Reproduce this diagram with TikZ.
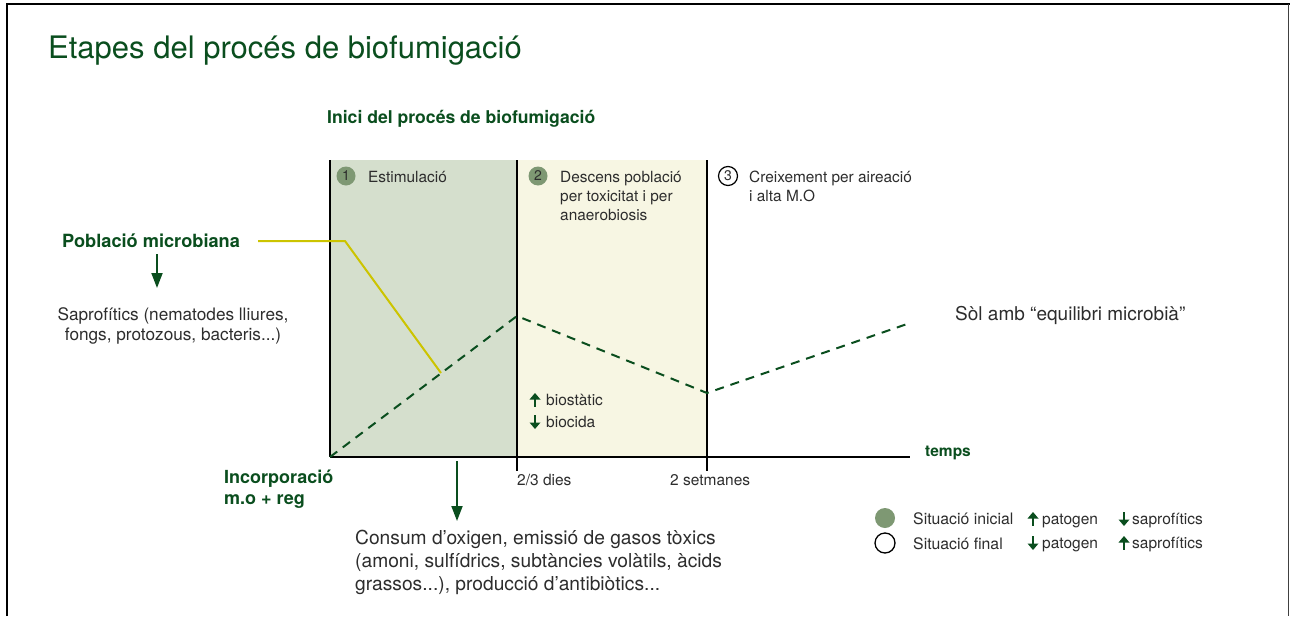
\documentclass[tikz,border=0pt]{standalone}
\usepackage{fontspec}
\setmainfont{TeX Gyre Heros}
\usetikzlibrary{arrows.meta}
\definecolor{dkgreen}{RGB}{10,78,30}
\definecolor{txtgray}{RGB}{45,45,45}
\definecolor{greenfill}{RGB}{213,223,205}
\definecolor{yellowfill}{RGB}{247,246,227}
\definecolor{circfill}{RGB}{126,152,115}
\definecolor{ylwline}{RGB}{204,196,0}
\tikzset{
  txt/.style={inner sep=0pt, text=txtgray, align=left},
  gtxt/.style={inner sep=0pt, text=dkgreen, align=left},
  stepcirc/.style={circle, minimum size=19pt, inner sep=0pt, font=\fontsize{14}{14}\selectfont, text=txtgray},
  legcirc/.style={circle, minimum size=20pt, inner sep=0pt},
  bigarrow/.style={dkgreen, line width=1.8pt, -{Triangle[width=11pt,length=15pt]}},
  upar/.pic={\fill[dkgreen] (-1.4,7) rectangle (1.4,-1); \fill[dkgreen] (-5.5,-0.5)--(5.5,-0.5)--(0,-7)--cycle;},
  downar/.pic={\fill[dkgreen] (-1.4,-7) rectangle (1.4,1); \fill[dkgreen] (-5.5,0.5)--(5.5,0.5)--(0,7)--cycle;},
}
\begin{document}
\begin{tikzpicture}[x=1pt,y=-1pt]
\useasboundingbox (0,0) rectangle (1290,616);
\fill[white] (0,0) rectangle (1290,616);
% frame
\draw[line width=2.5pt] (7,616) -- (7,4) -- (1290,4);
\draw[black!75, line width=1.5pt] (1288.5,4) -- (1288.5,616);
% title
\node[gtxt, anchor=base west, font=\fontsize{31}{36}\selectfont] (title) at (48,58) {Etapes del procés de biofumigació};
\node[gtxt, anchor=base west, font=\bfseries\fontsize{17.6}{22}\selectfont] (subtitle) at (327,123) {Inici del procés de biofumigació};
% regions
\fill[greenfill] (330,160) rectangle (517,457);
\fill[yellowfill] (517,160) rectangle (707,457);
\coordinate (v1t) at (330,160); \coordinate (v1b) at (330,457);
\coordinate (v2t) at (517,160); \coordinate (v2b) at (517,471);
\coordinate (v3t) at (707,160); \coordinate (v3b) at (707,471);
\coordinate (axe) at (910,457);
\draw[line width=2pt] (v1t) -- (v1b);
\draw[line width=2pt] (v2t) -- (v2b);
\draw[line width=2pt] (v3t) -- (v3b);
\draw[line width=2pt] (v1b) -- (axe);
% steps (multi-line nodes: base = last line)
\node[stepcirc, fill=circfill] (c1) at (346,176) {1};
\node[txt, anchor=base west, font=\fontsize{15.4}{19}\selectfont] (s1) at (368,182) {Estimulació};
\node[stepcirc, fill=circfill] (c2) at (538,176) {2};
\node[txt, anchor=base west, font=\fontsize{15.4}{19}\selectfont] (s2) at (560,220) {Descens població\\per toxicitat i per\\anaerobiosis};
\node[stepcirc, draw=black, line width=1.2pt] (c3) at (728,176) {3};
\node[txt, anchor=base west, font=\fontsize{15.4}{19}\selectfont] (s3) at (749,201) {Creixement per aireació\\i alta M.O};
% population line
\coordinate (y0) at (258,241); \coordinate (y1) at (345,241); \coordinate (y2) at (441,373);
\draw[ylwline, line width=2pt] (y0) -- (y1) -- (y2);
\coordinate (d0) at (330,457); \coordinate (d1) at (517,316); \coordinate (d2) at (707,393); \coordinate (d3) at (910,323);
\draw[dkgreen, line width=2pt, dash pattern=on 9pt off 7pt] (d0) -- (d1) -- (d2) -- (d3);
% left labels
\node[gtxt, anchor=base west, font=\bfseries\fontsize{18.2}{21}\selectfont] (pob) at (62,247) {Població microbiana};
\coordinate (pa1) at (157,254); \coordinate (pa2) at (157,288);
\draw[bigarrow] (pa1) -- (pa2);
\node[txt, anchor=base, align=center, font=\fontsize{17.2}{20}\selectfont] (sap) at (173,340) {Saprofítics (nematodes lliures,\\fongs, protozous, bacteris...)};
\node[gtxt, anchor=base west, font=\bfseries\fontsize{18}{21}\selectfont] (inc) at (224,504) {Incorporació\\m.o + reg};
% axis labels
\node[gtxt, anchor=base west, font=\bfseries\fontsize{15.5}{19}\selectfont] (temps) at (925,456) {temps};
\node[txt, anchor=base west, font=\fontsize{15.5}{19}\selectfont] (dies) at (517,485) {2/3 dies};
\node[txt, anchor=base west, font=\fontsize{15.5}{19}\selectfont] (setm) at (670,485) {2 setmanes};
% bio labels
\pic at (535,400) {upar};
\node[txt, anchor=base west, font=\fontsize{15.5}{19}\selectfont] (biost) at (546,405) {biostàtic};
\pic at (535,422) {downar};
\node[txt, anchor=base west, font=\fontsize{15.5}{19}\selectfont] (bioc) at (546,427) {biocida};
% right label
\node[txt, anchor=base west, font=\fontsize{19}{23}\selectfont] (sol) at (955,320) {Sòl amb “equilibri microbià”};
% bottom arrow and text
\coordinate (ba1) at (457,461); \coordinate (ba2) at (457,521);
\draw[bigarrow] (ba1) -- (ba2);
\node[txt, anchor=base west, font=\fontsize{19.2}{23}\selectfont] (cons) at (355,590) {Consum d’oxigen, emissió de gasos tòxics\\(amoni, sulfídrics, subtàncies volàtils, àcids\\grassos...), producció d’antibiòtics...};
% legend
\node[legcirc, fill=circfill] (l1) at (885,518) {};
\node[legcirc, draw=black, line width=1.3pt] (l2) at (885,543) {};
\node[txt, anchor=base west, font=\fontsize{15.8}{19}\selectfont] (li) at (913,524) {Situació inicial};
\node[txt, anchor=base west, font=\fontsize{15.8}{19}\selectfont] (lf) at (913,549) {Situació final};
\pic at (1033,519) {upar};
\node[txt, anchor=base west, font=\fontsize{15.5}{19}\selectfont] (p1) at (1042,524) {patogen};
\pic at (1033,543) {downar};
\node[txt, anchor=base west, font=\fontsize{15.5}{19}\selectfont] (p2) at (1042,548) {patogen};
\pic at (1124,519) {downar};
\node[txt, anchor=base west, font=\fontsize{15.5}{19}\selectfont] (sp1) at (1132,524) {saprofítics};
\pic at (1124,543) {upar};
\node[txt, anchor=base west, font=\fontsize{15.5}{19}\selectfont] (sp2) at (1132,548) {saprofítics};
\end{tikzpicture}
\end{document}
